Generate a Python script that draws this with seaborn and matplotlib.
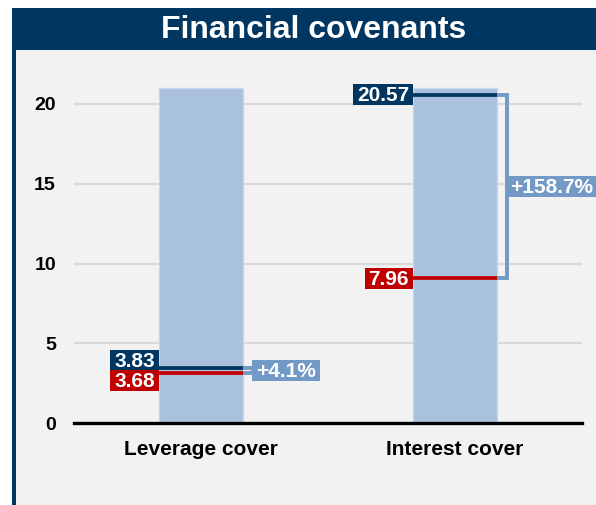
import matplotlib
matplotlib.use("Agg")
import matplotlib.pyplot as plt
from matplotlib.patches import Rectangle
from matplotlib.path import Path
import seaborn as sns
import pandas as pd

# ---- data ----
categories = ["Leverage cover", "Interest cover"]
bar_height = [21, 21]
current_values = [3.83, 20.57]     # navy labels
prior_values = [3.68, 7.96]        # red labels
current_level = [3.45, 20.57]      # where the navy line is drawn
prior_level = [3.15, 9.07]         # where the red line is drawn
pct_labels = ["+4.1%", "+158.7%"]
yticks = [0, 5, 10, 15, 20]
title = "Financial covenants"

NAVY = "#00365f"
RED = "#c00000"
BAR = "#aac1dd"
BRACKET = "#7399c6"
PANEL = "#f2f2f2"
GRID = "#d9d9d9"

sns.set_theme(style="white")
plt.rcParams["font.family"] = ["Liberation Sans", "DejaVu Sans"]

W, H = 596, 505
DPI = 100
fig = plt.figure(figsize=(W / DPI, H / DPI), dpi=DPI)
fig.patch.set_facecolor("white")

def fx(px):
    return px / W

def fy(py):
    return 1 - py / H

def px2pt(p):
    return p * 72 / DPI

def label_box(hpad, top, bottom):
    # box padding in pixels: hpad left/right, extra top, trim bottom
    def style(x0, y0, width, height, mutation_size):
        xa, xb = x0 - hpad, x0 + width + hpad
        ya, yb = y0 + bottom, y0 + height + top
        return Path([(xa, ya), (xb, ya), (xb, yb), (xa, yb), (xa, ya)], closed=True)
    return style

# background panel, title band, left border
fig.patches.append(Rectangle((fx(15), 0), 1 - fx(15), fy(50), transform=fig.transFigure,
                             facecolor=PANEL, edgecolor="none", zorder=-10))
fig.patches.append(Rectangle((fx(12), fy(50)), 1 - fx(12), fy(8) - fy(50), transform=fig.transFigure,
                             facecolor=NAVY, edgecolor="none", zorder=-10))
fig.patches.append(Rectangle((fx(12), 0), fx(16) - fx(12), fy(50), transform=fig.transFigure,
                             facecolor=NAVY, edgecolor="none", zorder=-10))
fig.text(fx(314), fy(30), title, color="white", fontsize=23, fontweight="bold",
         ha="center", va="center")

ymax = 22.5
px_per_unit = 15.95
ax_h = ymax * px_per_unit / H
ax = fig.add_axes([fx(74), fy(423), fx(582) - fx(74), ax_h])
ax.set_zorder(1)
ax.patch.set_visible(False)

df = pd.DataFrame({"cat": categories, "val": bar_height})
sns.barplot(data=df, x="cat", y="val", color=BAR, saturation=1, width=0.33,
            edgecolor="#c8d6ea", linewidth=1, ax=ax, zorder=2)
ax.set_xlim(-0.5, 1.5)
ax.set_ylim(0, ymax)
ax.set_yticks(yticks)
ax.set_yticklabels([str(t) for t in yticks])
ax.set_xlabel("")
ax.set_ylabel("")
ax.grid(axis="y", color=GRID, lw=1.6, zorder=0)
ax.grid(axis="x", visible=False)
ax.set_axisbelow(True)
for s in ["left", "right", "top"]:
    ax.spines[s].set_visible(False)
ax.spines["bottom"].set_color("black")
ax.spines["bottom"].set_linewidth(2.4)
ax.spines["bottom"].set_zorder(5)
ax.tick_params(axis="y", length=0, pad=13, labelsize=14, labelcolor="black")
ax.tick_params(axis="x", length=0, pad=12.5, labelsize=15, labelcolor="black")
for lab in ax.get_yticklabels() + ax.get_xticklabels():
    lab.set_fontweight("bold")

hw = 0.33 / 2
label_dy_px = [(7.0, -7.5), (0, 0)]
bx_off = 0.04
lab_fs = 15
HP = 4      # horizontal pad px
TOP = 2     # extra top px
BOT = 0     # bottom trim px
shift = px2pt((TOP + BOT) / 2)  # move down so box centre is on anchor
for i in range(len(categories)):
    left, right = i - hw, i + hw
    ax.hlines(current_level[i], left, right, color=NAVY, lw=2.7, zorder=4)
    ax.hlines(prior_level[i], left, right, color=RED, lw=2.7, zorder=4)
    bx = right + bx_off
    ax.plot([right, bx, bx, right], [current_level[i], current_level[i], prior_level[i], prior_level[i]],
            color=BRACKET, lw=2.8, zorder=3, solid_joinstyle="miter", clip_on=False)
    dyc, dyp = label_dy_px[i]
    ax.annotate(f"{current_values[i]:.2f}", xy=(left, current_level[i]),
                xytext=(-px2pt(HP), px2pt(dyc) - shift),
                textcoords="offset points", ha="right", va="center", color="white",
                fontsize=lab_fs, fontweight="bold", zorder=6,
                bbox=dict(boxstyle=label_box(HP, TOP, BOT), fc=NAVY, ec="none"))
    ax.annotate(f"{prior_values[i]:.2f}", xy=(left, prior_level[i]),
                xytext=(-px2pt(HP), px2pt(dyp) - shift),
                textcoords="offset points", ha="right", va="center", color="white",
                fontsize=lab_fs, fontweight="bold", zorder=6,
                bbox=dict(boxstyle=label_box(HP, TOP, BOT), fc=RED, ec="none"))
    mid = (current_level[i] + prior_level[i]) / 2
    ax.annotate(pct_labels[i], xy=(bx, mid),
                xytext=(px2pt(HP) - 0.5, -shift),
                textcoords="offset points", ha="left", va="center", color="white",
                fontsize=lab_fs, fontweight="bold", zorder=6, annotation_clip=False,
                bbox=dict(boxstyle=label_box(HP, TOP, BOT), fc=BRACKET, ec="none"))

fig.savefig("out.png", dpi=DPI)
